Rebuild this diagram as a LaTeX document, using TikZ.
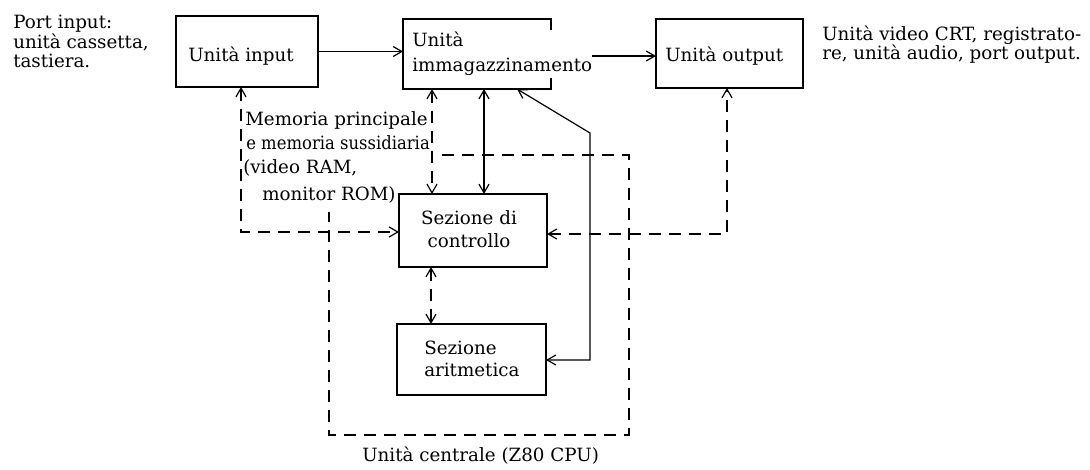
\documentclass[tikz,border=0pt]{standalone}
\usepackage{fontspec}
\usepackage{graphicx}
\setmainfont{DejaVu Serif}
\usetikzlibrary{arrows.meta}
\begin{document}
\begin{tikzpicture}[x=0.75pt,y=-0.75pt,
  box/.style={draw, line width=1.2pt, inner sep=0pt, outer sep=0pt},
  lbl/.style={inner sep=0pt, anchor=base west, font=\fontsize{13.7}{16}\selectfont},
  clbl/.style={inner sep=0pt, anchor=base, font=\fontsize{13.7}{16}\selectfont},
  conn/.style={line width=0.9pt},
  dsh/.style={conn, dash pattern=on 9pt off 6pt},
  tip/.style={-{Straight Barb[length=6.5pt,width=7.5pt]}},
  tips/.style={{Straight Barb[length=6.5pt,width=7.5pt]}-{Straight Barb[length=6.5pt,width=7.5pt]}},
]
\useasboundingbox (0,0) rectangle (1090,470);
% boxes
\node[box, minimum width=142*0.75pt, minimum height=71*0.75pt] (inp) at (247,51.5) {};
\node[box, draw=none, minimum width=148*0.75pt, minimum height=70*0.75pt] (imm) at (477,54) {};
\draw[line width=1.2pt, line join=miter] (imm.east |- 0,30) -- (imm.north east) -- (imm.north west) -- (imm.south west) -- (imm.south east) -- (imm.east |- 0,78);
\node[box, minimum width=147*0.75pt, minimum height=69*0.75pt] (out) at (729.5,53.5) {};
\node[box, minimum width=148*0.75pt, minimum height=73*0.75pt] (ctl) at (473,230.5) {};
\node[box, minimum width=149*0.75pt, minimum height=71*0.75pt] (ari) at (471.5,359.5) {};
% texts
\node[lbl] (tpin1) at (13,29) {Port input:};
\node[lbl] (tpin2) at (13,49) {unità cassetta,};
\node[lbl] (tpin3) at (13,68) {tastiera.};
\node[lbl] (tpout1) at (822,41) {Unità video CRT, registrato-};
\node[lbl] (tpout2) at (822,60) {re, unità audio, port output.};
\node[lbl] (tin) at (188,62) {Unità input};
\node[lbl] (timm1) at (412,47) {Unità};
\node[lbl] (timm2) at (412,72) {immagazzinamento};
\node[lbl] (tout) at (665,62) {Unità output};
\node[lbl] (tmem1) at (245,126) {Memoria principale};
\node[lbl] (tmem2) at (246,150) {\scalebox{0.9}[1]{e memoria sussidiaria}};
\node[lbl] (tmem3) at (243,174) {(video RAM,};
\node[lbl] (tmem4) at (262,201) {monitor ROM)};
\node[clbl] (tctl1) at (469,225) {Sezione di};
\node[clbl] (tctl2) at (469,248) {controllo};
\node[lbl] (tari1) at (424,355) {Sezione};
\node[lbl] (tari2) at (424,377) {aritmetica};
\node[lbl] (tcpu) at (362,462) {Unità centrale (Z80 CPU)};
% helper coordinates
\coordinate (c1) at (241,232);
\coordinate (c2) at (727,234);
\coordinate (c3) at (590,133);
\coordinate (c4) at (590,360);
\coordinate (cpu1) at (442,155);
\coordinate (cpu2) at (629,155);
\coordinate (cpu3) at (629,435);
\coordinate (cpu4) at (329,435);
\coordinate (cpu5) at (329,212);
% CPU frame
\draw[dsh] (cpu1) -- (cpu2) -- (cpu3) -- (cpu4) -- (cpu5);
% connectors
\draw[conn, tip] (inp.east) -- (imm.west |- inp.east);
\draw[conn, tip] (timm2.east |- 0,56) -- (out.west |- 0,56);
\draw[dsh, tips] (inp.south -| c1) -- (c1) -- (ctl.west |- c1);
\draw[dsh, tips] (ctl.east |- c2) -- (c2) -- (out.south -| c2);
\draw[dsh, tips] (imm.south -| 432,0) -- (ctl.north -| 432,0);
\draw[conn, tips] (imm.south -| 484,0) -- (ctl.north -| 484,0);
\draw[conn, tips] (imm.south -| 517,0) -- (c3) -- (c4) -- (ari.east |- c4);
\draw[dsh, tips] (ctl.south -| 431,0) -- (ari.north -| 431,0);
\end{tikzpicture}
\end{document}
